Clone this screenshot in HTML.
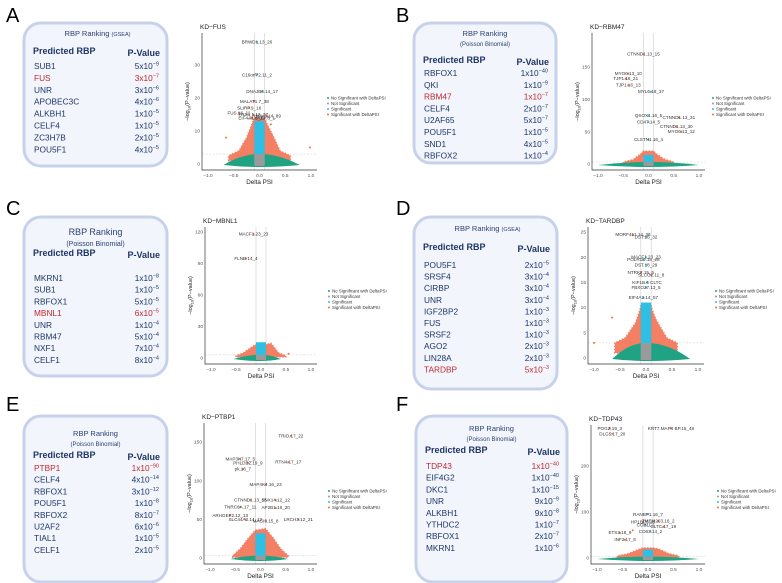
<!DOCTYPE html>
<html><head><meta charset="utf-8">
<style>
body{margin:0;background:#fff;}
#root{position:relative;width:782px;height:583px;overflow:hidden;font-family:"Liberation Sans",sans-serif;}
svg{position:absolute;left:0;top:0;}
</style></head>
<body>
<div id="root">
<svg id="fig" width="782" height="583" viewBox="0 0 782 583"></svg>
</div>
<script>
// ---------- Tables data ----------
const A_rbp=["SUB1","FUS","UNR","APOBEC3C","ALKBH1","CELF4","ZC3H7B","POU5F1"];
const A_pv=[["5","-9"],["3","-7"],["3","-6"],["4","-6"],["1","-5"],["1","-5"],["2","-5"],["4","-5"]];
const B_rbp=["RBFOX1","QKI","RBM47","CELF4","U2AF65","POU5F1","SND1","RBFOX2"];
const B_pv=[["1","-40"],["1","-9"],["1","-7"],["2","-7"],["5","-7"],["1","-5"],["4","-5"],["1","-4"]];
const C_rbp=["MKRN1","SUB1","RBFOX1","MBNL1","UNR","RBM47","NXF1","CELF1"];
const C_pv=[["1","-8"],["1","-5"],["5","-5"],["6","-5"],["1","-4"],["5","-4"],["7","-4"],["8","-4"]];
const D_rbp=["POU5F1","SRSF4","CIRBP","UNR","IGF2BP2","FUS","SRSF2","AGO2","LIN28A","TARDBP"];
const D_pv=[["2","-5"],["3","-4"],["3","-4"],["3","-4"],["1","-3"],["1","-3"],["1","-3"],["2","-3"],["2","-3"],["5","-3"]];
const E_rbp=["PTBP1","CELF4","RBFOX1","POU5F1","RBFOX2","U2AF2","TIAL1","CELF1"];
const E_pv=[["1","-90"],["4","-14"],["3","-12"],["1","-8"],["8","-7"],["6","-6"],["1","-5"],["2","-5"]];
const F_rbp=["TDP43","EIF4G2","DKC1","UNR","ALKBH1","YTHDC2","RBFOX1","MKRN1"];
const F_pv=[["1","-40"],["1","-40"],["1","-15"],["9","-9"],["9","-8"],["1","-7"],["2","-7"],["1","-6"]];

// ---------- Volcano data (data units: delta PSI, -log10 p) ----------
const xTicks=[-1.0,-0.5,0.0,0.5,1.0];
const A_yTicks=[0,10,20,30];
const A_envX=[-0.6,-0.4,-0.25,-0.15,-0.1,0.1,0.15,0.25,0.4,0.6];
const A_envY=[2.5,4,8,12,14,14,12,9,4,2.5];
const A_green=[-0.7,0.78,3];
const A_cyanTop=13;
const A_ptX=[-0.05,-0.05,0.05,-0.1,-0.2,-0.4,-0.12,0.15,0.05,-0.15,-0.65,0.98,0.22];
const A_ptY=[37,27,22,19,17,15.5,15,14.5,14,14,8,5,12];
const A_ptLab=["BRWD1.13_26","C16orf72.11_2","DNAJB6.14_17","MALAT1.7_38","SLIRP.9_16","FUS.16_11","FRS1 1.12_37","HIPK3.14_89","ALYREF.8_1","EIF4A1.6_17","","",""];

const B_yTicks=[0,50,100,150];
const B_envX=[-0.5,-0.3,-0.15,-0.1,0.1,0.15,0.3,0.5];
const B_envY=[3,7,16,20,20,16,8,3];
const B_green=[-1.0,1.0,3];
const B_cyanTop=14;
const B_ptX=[-0.1,-0.4,-0.45,-0.4,0.05,0.0,0.0,0.6,0.55,0.65,0.0];
const B_ptY=[170,140,132,122,112,75,65,72,58,50,38];
const B_ptLab=["CTNND1.13_15","MYO6.13_10","TJP1.16_21","TJP1.16_13","MYL6.18_37","QSOX1.16_5","CD47.14_5","CTNND1.13_31","CTNND1.13_30","MYO6.13_12","CLSTN1.16_4"];

const C_yTicks=[0,30,60,90,120];
const C_envX=[-0.5,-0.35,-0.2,-0.1,0.1,0.2,0.35,0.5];
const C_envY=[2,5,10,13,13,14,5,2];
const C_green=[-0.55,0.4,3];
const C_cyanTop=15;
const C_ptX=[-0.15,-0.3,0.55];
const C_ptY=[118,95,4];
const C_ptLab=["MACF1.23_23","FLNB.14_4",""];

const D_yTicks=[0,5,10,15,20,25];
const D_envX=[-0.6,-0.4,-0.2,-0.12,-0.1,0.1,0.12,0.2,0.4,0.6];
const D_envY=[3,4,7,9.5,10.5,10.5,9.5,7.5,4,3];
const D_green=[-0.65,0.85,3];
const D_cyanTop=11;
const D_ptX=[-0.25,0.0,0.0,-0.05,0.0,-0.1,0.1,0.02,0.0,-0.05,-0.65,-1.0];
const D_ptY=[24.5,24,20,19.5,18.5,17,16.5,15,14,12,8,3];
const D_ptLab=["MORF4L1.14_36","DST.16_32","MACF1.23_23","POLR1D.15_28","DST.18_29","NTRK2.15_5","SLCO2.11_8","KIF1B.6 CLTC","FBXO27.13_5","EIF4A2.14_57","",""];

const E_yTicks=[0,50,100,150];
const E_envX=[-0.55,-0.4,-0.25,-0.1,0.1,0.25,0.4,0.55];
const E_envY=[3,12,25,36,38,26,12,3];
const E_green=[-0.6,0.55,3];
const E_cyanTop=32;
const E_ptX=[0.6,-0.4,-0.25,-0.35,0.55,0.1,-0.2,0.3,-0.4,0.3,-0.6,-0.3,0.1,0.75];
const E_ptY=[158,128,123,115,124,95,75,75,66,65,55,50,48,50];
const E_ptLab=["TRIO.17_22","MAP3K7.17_5","PHLDB2.19_9","pk.16_7","RTN4.17_17","MAP4K4.16_23","CTNND1.13_15","SNX14.12_12","TNRC6A.17_11","AP2B1.16_20","ARHGEF2.12_13","SLC44A2.14_12","MAGI3.15_8","LRCH3.12_21"];

const F_yTicks=[0,100,200];
const F_envX=[-0.6,-0.4,-0.2,-0.1,0.1,0.2,0.4,0.6];
const F_envY=[5,9,18,22,22,20,10,5];
const F_green=[-1.0,1.0,3];
const F_cyanTop=18;
const F_ptX=[-0.75,-0.7,0.45,0.0,-0.1,0.2,-0.05,0.3,-0.3,0.05,-0.55,-0.45];
const F_ptY=[282,270,282,95,78,80,72,68,60,58,55,40];
const F_ptLab=["POGZ.19_3","DLG5.17_20","KRT7.MAP4 BP.15_48","RANBP1.16_7","HP1BP3.16","TMEM263.16_2","COBLL1","CLTC.17_19","","CD63.14_2","ETS2.18_9","INF2.17_6"];

// ---------- drawing ----------
const NS="http://www.w3.org/2000/svg";
const svg=document.getElementById("fig");
function mk(tag,attrs,parent){const e=document.createElementNS(NS,tag);for(const k in attrs)e.setAttribute(k,attrs[k]);(parent||svg).appendChild(e);return e;}
function txt(x,y,s,size,fill,extra,parent){const t=mk("text",Object.assign({x:x,y:y,"font-size":size,fill:fill,"font-family":"Liberation Sans, sans-serif"},extra||{}),parent);t.textContent=s;return t;}

function panelLetter(x,y,s,name){const t=txt(x,y,s,20,"#000");}

function table(cfg){
  const g=mk("g",{});
  
  
  const bx=mk("rect",{x:cfg.x,y:cfg.y,width:cfg.w,height:cfg.h,rx:17,fill:"#f2f6fc",stroke:"#c7d2ea","stroke-width":3},g);
  
  
  const cx=cfg.x+cfg.w/2;
  if(cfg.gsea){
    const t=txt(cx+2,cfg.ty,"RBP Ranking ",7.5,"#2a3f74",{"text-anchor":"middle"},g);
    const ts=mk("tspan",{"font-size":5.5},t);ts.textContent="(GSEA)";
    
  }else{
    const t=txt(cx,cfg.ty,"RBP Ranking",cfg.big?9:7.5,"#2a3f74",{"text-anchor":"middle"},g);
    
    const s=txt(cx,cfg.ty+(cfg.big?11:10),"(Poisson Binomial)",cfg.big?7:6,"#2a3f74",{"text-anchor":"middle"},g);
    
  }
  const h1=txt(cfg.x+9,cfg.hy,"Predicted RBP",9,"#1f3466",{"font-weight":"bold"},g);
  
  const h2=txt(cfg.x+cfg.w-7,cfg.hy+2,"P-Value",9,"#1f3466",{"font-weight":"bold","text-anchor":"end"},g);
  
  cfg.rbp.forEach((r,i)=>{
    const y=cfg.ry+i*cfg.step;
    const col=(r===cfg.hl)?"#c0282e":"#1f3466";
    const a=txt(cfg.x+10,y,r,8.3,col,{},g);
    
    const p=txt(cfg.x+cfg.w-8,y,cfg.pv[i][0]+"x10",8.3,col,{"text-anchor":"end"},g);
    const sp=mk("tspan",{"font-size":5.5,dy:-3.5},p);sp.textContent="\u2212"+cfg.pv[i][1].slice(1);
    
  });
}

function volcano(c){
  const g=mk("g",{});
  
  
  const X=v=>c.x1+(v+1)/2*(c.x2-c.x1);
  const Y=v=>c.y0-v*(c.y0-c.yr)/c.yrv;
  const left=c.x1-6,right=c.x2+6,top=c.top,bot=c.y0+6;
  const t=txt(left-2,top-4,c.title,6.5,"#222",{},g);
  
  [-0.1,0.1].forEach(v=>{const l=mk("line",{x1:X(v),x2:X(v),y1:top,y2:bot,stroke:"#ccc","stroke-width":0.6},g);});
  const th=mk("line",{x1:left,x2:right,y1:Y(3),y2:Y(3),stroke:"#ccc","stroke-width":0.5,"stroke-dasharray":"2,1.5"},g);
  
  // orange envelope
  let d="M"+X(c.envX[0])+","+Y(1);
  c.envX.forEach((v,i)=>{d+=" L"+X(v)+","+Y(c.envY[i]);});
  d+=" L"+X(c.envX[c.envX.length-1])+","+Y(1)+"Z";
  const op=mk("path",{d:d,fill:"#f26a4b",opacity:0.85,stroke:"#f26a4b","stroke-width":1.5,"stroke-dasharray":"1.2,1.8","stroke-linejoin":"round"},g);
  
  // green band
  const gr=c.green;
  const gp=mk("path",{d:`M${X(gr[0])},${Y(0)+1} Q${X(gr[0]*0.5)},${Y(gr[2])} ${X(0)},${Y(gr[2])} Q${X(gr[1]*0.5)},${Y(gr[2])} ${X(gr[1])},${Y(0)+1} Q${X(0)},${Y(0)+5} ${X(gr[0])},${Y(0)+1}Z`,fill:"#1fa383"},g);
  
  // cyan column
  const cy=mk("rect",{x:X(-0.1),y:Y(c.cyanTop),width:X(0.1)-X(-0.1),height:Y(0)-Y(c.cyanTop),fill:"#2ec0e4"},g);
  
  const gy=mk("rect",{x:X(-0.1),y:Y(3),width:X(0.1)-X(-0.1),height:Y(0)-Y(3)+2,fill:"#9a9a9a"},g);
  
  c.ptX.forEach((v,i)=>{
    const inner=Math.abs(v)<0.1;
    const p=mk("circle",{cx:X(v),cy:Y(c.ptY[i]),r:1,fill:inner?"#2ec0e4":"#f26a4b"},g);
    
    if(c.ptLab[i]){const l=txt(X(v),Y(c.ptY[i])+1.5,c.ptLab[i],4.6,"#333",{"text-anchor":"middle"},g);}
  });
  const ax=mk("path",{d:`M${left},${top} L${left},${bot} L${right},${bot}`,fill:"none",stroke:"#333","stroke-width":0.7},g);
  
  xTicks.forEach(v=>{const l=txt(X(v),bot+7,v.toFixed(1).replace("-","\u2212"),4.8,"#555",{"text-anchor":"middle"},g);});
  c.yTicks.forEach(v=>{const l=txt(left-2,Y(v)+1.6,String(v),4.8,"#555",{"text-anchor":"end"},g);});
  const xt=txt((left+right)/2,bot+14,"Delta PSI",6.3,"#222",{"text-anchor":"middle"},g);
  
  const ym=(top+bot)/2;
  const yt=txt(left-13,ym,"\u2212log",5.5,"#222",{"text-anchor":"middle",transform:`rotate(-90 ${left-13} ${ym})`},g);
  const s1=mk("tspan",{"font-size":4,dy:1.5},yt);s1.textContent="10";
  const s2=mk("tspan",{dy:-1.5},yt);s2.textContent="(P\u2212value)";
  
  const names=["No Significant with DeltaPSI","Not Significant","Significant","Significant with DeltaPSI"];
  const cols=["#1fa383","#9a9a9a","#2ec0e4","#f26a4b"];
  names.forEach((n,i)=>{
    const ly=c.ly+i*5.5;
    const d=mk("circle",{cx:c.lx,cy:ly,r:1,fill:cols[i]},g);
    
    const l=txt(c.lx+3,ly+1.5,n,4.4,"#333",{},g);
    
  });
}

panelLetter(6,22,"A","panel-label-a");
panelLetter(396,22,"B","panel-label-b");
panelLetter(6,215,"C","panel-label-c");
panelLetter(396,215,"D","panel-label-d");
panelLetter(6,411,"E","panel-label-e");
panelLetter(396,411,"F","panel-label-f");

table({name:"table-a",x:24,y:23,w:143,h:143,gsea:true,ty:36,hy:54,ry:69,step:11.9,rbp:A_rbp,pv:A_pv,hl:"FUS"});
table({name:"table-b",x:414,y:23,w:142,h:140,ty:36,hy:63,ry:76,step:11.8,rbp:B_rbp,pv:B_pv,hl:"RBM47"});
table({name:"table-c",x:24,y:217,w:143,h:159,big:true,ty:235,hy:256,ry:281,step:11.7,rbp:C_rbp,pv:C_pv,hl:"MBNL1"});
table({name:"table-d",x:414,y:217,w:143,h:172,gsea:true,ty:231,hy:250,ry:268,step:11.6,rbp:D_rbp,pv:D_pv,hl:"TARDBP"});
table({name:"table-e",x:24,y:416,w:143,h:166,ty:436,hy:458,ry:471,step:11.7,rbp:E_rbp,pv:E_pv,hl:"PTBP1"});
table({name:"table-f",x:416,y:416,w:151,h:166,ty:431,hy:453,ry:469,step:11.7,rbp:F_rbp,pv:F_pv,hl:"TDP43"});

volcano({name:"volcano-kd-fus",title:"KD\u2212FUS",x1:208,x2:311,y0:164,yr:65,yrv:30,top:33,yTicks:A_yTicks,envX:A_envX,envY:A_envY,green:A_green,cyanTop:A_cyanTop,ptX:A_ptX,ptY:A_ptY,ptLab:A_ptLab,lx:328,ly:98});
volcano({name:"volcano-kd-rbm47",title:"KD\u2212RBM47",x1:598,x2:699,y0:164,yr:67,yrv:150,top:33,yTicks:B_yTicks,envX:B_envX,envY:B_envY,green:B_green,cyanTop:B_cyanTop,ptX:B_ptX,ptY:B_ptY,ptLab:B_ptLab,lx:713,ly:98});
volcano({name:"volcano-kd-mbnl1",title:"KD\u2212MBNL1",x1:211,x2:311,y0:358,yr:232,yrv:120,top:227,yTicks:C_yTicks,envX:C_envX,envY:C_envY,green:C_green,cyanTop:C_cyanTop,ptX:C_ptX,ptY:C_ptY,ptLab:C_ptLab,lx:329,ly:291});
volcano({name:"volcano-kd-tardbp",title:"KD\u2212TARDBP",x1:594,x2:698,y0:358,yr:232,yrv:25,top:227,yTicks:D_yTicks,envX:D_envX,envY:D_envY,green:D_green,cyanTop:D_cyanTop,ptX:D_ptX,ptY:D_ptY,ptLab:D_ptLab,lx:716,ly:291});
volcano({name:"volcano-kd-ptbp1",title:"KD\u2212PTBP1",x1:210,x2:311,y0:558,yr:442,yrv:150,top:423,yTicks:E_yTicks,envX:E_envX,envY:E_envY,green:E_green,cyanTop:E_cyanTop,ptX:E_ptX,ptY:E_ptY,ptLab:E_ptLab,lx:329,ly:491});
volcano({name:"volcano-kd-tdp43",title:"KD\u2212TDP43",x1:597,x2:699,y0:558,yr:466,yrv:200,top:425,yTicks:F_yTicks,envX:F_envX,envY:F_envY,green:F_green,cyanTop:F_cyanTop,ptX:F_ptX,ptY:F_ptY,ptLab:F_ptLab,lx:718,ly:491});
</script>
</body></html>
